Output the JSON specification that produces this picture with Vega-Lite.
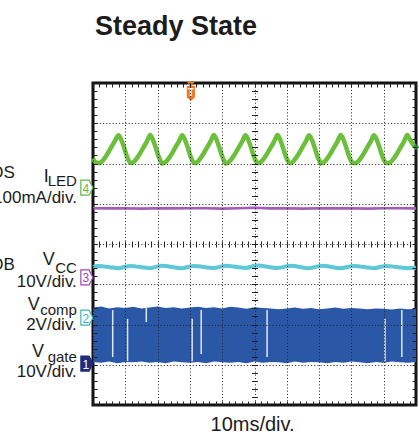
{
  "$schema": "https://vega.github.io/schema/vega-lite/v6.json",
  "width": 323,
  "height": 322,
  "autosize": {"type": "none"},
  "padding": {"left": 93, "top": 83, "right": 3, "bottom": 40},
  "background": "#ffffff",
  "config": {
    "view": {"stroke": "#111111", "strokeWidth": 3},
    "font": "Liberation Sans",
    "text": {"font": "Liberation Sans"}
  },
  "title": {"text": "Steady State", "anchor": "start", "frame": "group", "fontSize": 27, "font": "Liberation Sans", "fontWeight": "bold", "color": "#1c1c1c", "baseline": "alphabetic", "offset": 20, "dx": 2},
  "datasets": {
    "iled": [
      {"t":0.00,"v":2.12},{"t":0.06,"v":2.05},{"t":0.16,"v":2.01},{"t":0.23,"v":2.02},{"t":0.31,"v":2.08},{"t":0.41,"v":2.19},{"t":0.54,"v":2.37},{"t":0.67,"v":2.55},{"t":0.79,"v":2.70},
      {"t":0.87,"v":2.60},{"t":0.96,"v":2.40},{"t":1.04,"v":2.20},{"t":1.10,"v":2.08},{"t":1.16,"v":2.01},{"t":1.23,"v":2.02},{"t":1.31,"v":2.08},{"t":1.41,"v":2.19},{"t":1.54,"v":2.37},{"t":1.67,"v":2.55},{"t":1.77,"v":2.71},
      {"t":1.85,"v":2.60},{"t":1.94,"v":2.40},{"t":2.02,"v":2.20},{"t":2.08,"v":2.08},{"t":2.14,"v":2.00},{"t":2.22,"v":2.02},{"t":2.30,"v":2.08},{"t":2.40,"v":2.19},{"t":2.53,"v":2.37},{"t":2.66,"v":2.55},{"t":2.76,"v":2.70},
      {"t":2.84,"v":2.60},{"t":2.93,"v":2.40},{"t":3.01,"v":2.20},{"t":3.07,"v":2.08},{"t":3.13,"v":2.01},{"t":3.20,"v":2.02},{"t":3.28,"v":2.08},{"t":3.38,"v":2.19},{"t":3.51,"v":2.37},{"t":3.64,"v":2.55},{"t":3.74,"v":2.71},
      {"t":3.82,"v":2.60},{"t":3.91,"v":2.40},{"t":3.99,"v":2.20},{"t":4.05,"v":2.08},{"t":4.11,"v":2.00},{"t":4.18,"v":2.02},{"t":4.26,"v":2.08},{"t":4.36,"v":2.19},{"t":4.49,"v":2.37},{"t":4.62,"v":2.55},{"t":4.72,"v":2.70},
      {"t":4.80,"v":2.60},{"t":4.89,"v":2.40},{"t":4.97,"v":2.20},{"t":5.03,"v":2.08},{"t":5.09,"v":2.01},{"t":5.17,"v":2.02},{"t":5.25,"v":2.08},{"t":5.35,"v":2.19},{"t":5.48,"v":2.37},{"t":5.61,"v":2.55},{"t":5.71,"v":2.71},
      {"t":5.79,"v":2.60},{"t":5.88,"v":2.40},{"t":5.96,"v":2.20},{"t":6.02,"v":2.08},{"t":6.08,"v":2.01},{"t":6.15,"v":2.02},{"t":6.23,"v":2.08},{"t":6.33,"v":2.19},{"t":6.46,"v":2.37},{"t":6.59,"v":2.55},{"t":6.69,"v":2.70},
      {"t":6.77,"v":2.60},{"t":6.86,"v":2.40},{"t":6.94,"v":2.20},{"t":7.00,"v":2.08},{"t":7.06,"v":2.00},{"t":7.13,"v":2.02},{"t":7.21,"v":2.08},{"t":7.31,"v":2.19},{"t":7.44,"v":2.37},{"t":7.57,"v":2.55},{"t":7.67,"v":2.71},
      {"t":7.75,"v":2.60},{"t":7.84,"v":2.40},{"t":7.92,"v":2.20},{"t":7.98,"v":2.08},{"t":8.04,"v":2.01},{"t":8.16,"v":2.02},{"t":8.24,"v":2.08},{"t":8.34,"v":2.19},{"t":8.47,"v":2.37},{"t":8.60,"v":2.55},{"t":8.70,"v":2.70},
      {"t":8.78,"v":2.60},{"t":8.87,"v":2.40},{"t":8.95,"v":2.20},{"t":9.01,"v":2.08},{"t":9.07,"v":2.01},{"t":9.19,"v":2.02},{"t":9.27,"v":2.08},{"t":9.37,"v":2.19},{"t":9.50,"v":2.37},{"t":9.63,"v":2.55},{"t":9.73,"v":2.71},
      {"t":9.81,"v":2.60},{"t":9.90,"v":2.48},{"t":10.0,"v":2.42}
    ],
    "ch3": [
      {"t":0,"v":0.89},{"t":0.5,"v":0.885},{"t":1,"v":0.89},{"t":1.5,"v":0.88},{"t":2,"v":0.89},{"t":2.5,"v":0.885},{"t":3,"v":0.89},{"t":3.5,"v":0.89},{"t":4,"v":0.88},{"t":4.5,"v":0.89},{"t":5,"v":0.9},{"t":5.5,"v":0.885},{"t":6,"v":0.89},{"t":6.5,"v":0.88},{"t":7,"v":0.89},{"t":7.5,"v":0.885},{"t":8,"v":0.89},{"t":8.5,"v":0.88},{"t":9,"v":0.89},{"t":9.5,"v":0.89},{"t":10,"v":0.885}
    ],
    "vcc": [
      {"t":0,"v":-0.57},{"t":0.16,"v":-0.545},{"t":0.79,"v":-0.6},{"t":1.15,"v":-0.545},{"t":1.77,"v":-0.6},{"t":2.13,"v":-0.54},{"t":2.76,"v":-0.6},{"t":3.12,"v":-0.545},{"t":3.74,"v":-0.595},{"t":4.10,"v":-0.54},{"t":4.72,"v":-0.595},{"t":5.08,"v":-0.535},{"t":5.71,"v":-0.595},{"t":6.12,"v":-0.54},{"t":6.69,"v":-0.6},{"t":7.10,"v":-0.54},{"t":7.67,"v":-0.6},{"t":8.08,"v":-0.545},{"t":8.70,"v":-0.6},{"t":9.07,"v":-0.545},{"t":9.73,"v":-0.6},{"t":10,"v":-0.59}
    ],
    "gate": [
      {"t":0,"hi":-1.58,"lo":-2.93},{"t":0.25,"hi":-1.55,"lo":-2.95},{"t":0.5,"hi":-1.6,"lo":-2.92},{"t":0.75,"hi":-1.57,"lo":-2.96},{"t":1,"hi":-1.59,"lo":-2.93},{"t":1.25,"hi":-1.56,"lo":-2.94},{"t":1.5,"hi":-1.6,"lo":-2.92},{"t":1.75,"hi":-1.58,"lo":-2.95},{"t":2,"hi":-1.55,"lo":-2.93},{"t":2.25,"hi":-1.59,"lo":-2.96},{"t":2.5,"hi":-1.57,"lo":-2.92},{"t":2.75,"hi":-1.6,"lo":-2.94},{"t":3,"hi":-1.58,"lo":-2.95},{"t":3.25,"hi":-1.56,"lo":-2.93},{"t":3.5,"hi":-1.59,"lo":-2.96},{"t":3.75,"hi":-1.57,"lo":-2.92},{"t":4,"hi":-1.6,"lo":-2.94},{"t":4.25,"hi":-1.56,"lo":-2.95},{"t":4.5,"hi":-1.58,"lo":-2.93},{"t":4.75,"hi":-1.61,"lo":-2.96},{"t":5,"hi":-1.57,"lo":-2.92},{"t":5.25,"hi":-1.59,"lo":-2.95},{"t":5.5,"hi":-1.6,"lo":-2.93},{"t":5.75,"hi":-1.62,"lo":-2.94},{"t":6,"hi":-1.6,"lo":-2.96},{"t":6.25,"hi":-1.58,"lo":-2.92},{"t":6.5,"hi":-1.61,"lo":-2.95},{"t":6.75,"hi":-1.59,"lo":-2.93},{"t":7,"hi":-1.62,"lo":-2.94},{"t":7.25,"hi":-1.6,"lo":-2.96},{"t":7.5,"hi":-1.58,"lo":-2.93},{"t":7.75,"hi":-1.61,"lo":-2.95},{"t":8,"hi":-1.59,"lo":-2.92},{"t":8.25,"hi":-1.6,"lo":-2.94},{"t":8.5,"hi":-1.62,"lo":-2.96},{"t":8.75,"hi":-1.6,"lo":-2.93},{"t":9,"hi":-1.61,"lo":-2.95},{"t":9.25,"hi":-1.63,"lo":-2.92},{"t":9.5,"hi":-1.6,"lo":-2.94},{"t":9.75,"hi":-1.62,"lo":-2.95},{"t":10,"hi":-1.61,"lo":-2.93}
    ],
    "gaps": [
      {"t":0.61,"y1":-1.64,"y2":-2.81},{"t":1.07,"y1":-1.86,"y2":-2.91},{"t":1.65,"y1":-1.59,"y2":-1.94},{"t":3.07,"y1":-1.86,"y2":-2.91},{"t":3.35,"y1":-1.64,"y2":-2.73},{"t":5.39,"y1":-1.64,"y2":-2.81},{"t":9.04,"y1":-1.86,"y2":-2.91},{"t":9.56,"y1":-1.64,"y2":-2.81}
    ],
    "markers": [
      {"ch":"4","t":-0.19,"v":1.40},{"ch":"3","t":-0.19,"v":-0.83},{"ch":"2","t":-0.19,"v":-1.83},{"ch":"1","t":-0.19,"v":-2.97}
    ],
    "bigletters": [
      {"t":-1.37,"v":1.54,"label":"I"},{"t":-1.18,"v":-0.52,"label":"V"},{"t":-1.65,"v":-1.64,"label":"V"},{"t":-1.52,"v":-2.81,"label":"V"}
    ],
    "subs": [
      {"t":-0.5,"v":1.44,"label":"LED"},{"t":-0.5,"v":-0.72,"label":"CC"},{"t":-0.5,"v":-1.76,"label":"comp"},{"t":-0.5,"v":-2.93,"label":"gate"}
    ],
    "scales": [
      {"t":-0.5,"v":1.02,"label":"100mA/div."},{"t":-0.5,"v":-1.07,"label":"10V/div."},{"t":-0.5,"v":-2.14,"label":"2V/div."},{"t":-0.5,"v":-3.30,"label":"10V/div."},{"t":-2.42,"v":1.64,"label":"OS"},{"t":-2.42,"v":-0.65,"label":"OB"}
    ]
  },
  "resolve": {"axis": {"x": "independent", "y": "independent"}},
  "layer": [
    {
      "data": {"name": "iled"},
      "mark": {"type": "line", "color": "#6bbf3b", "strokeWidth": 4.5, "interpolate": "monotone"},
      "encoding": {
        "x": {"field": "t", "type": "quantitative", "scale": {"domain": [0, 10], "nice": false, "zero": false},
          "axis": {"orient": "bottom", "title": null, "labels": false, "domain": false, "zindex": 1,
            "values": [0,0.2,0.4,0.6,0.8,1,1.2,1.4,1.6,1.8,2,2.2,2.4,2.6,2.8,3,3.2,3.4,3.6,3.8,4,4.2,4.4,4.6,4.8,5,5.2,5.4,5.6,5.8,6,6.2,6.4,6.6,6.8,7,7.2,7.4,7.6,7.8,8,8.2,8.4,8.6,8.8,9,9.2,9.4,9.6,9.8,10],
            "tickSize": -4, "tickColor": "#222222", "tickWidth": 1,
            "grid": true, "gridColor": "#222222", "gridDash": [1, 2.2], "gridWidth": 1,
            "gridOpacity": {"condition": {"test": "abs(datum.value - round(datum.value)) < 0.01", "value": 1}, "value": 0}}},
        "y": {"field": "v", "type": "quantitative", "scale": {"domain": [-4, 4], "nice": false, "zero": false},
          "axis": {"orient": "left", "title": null, "labels": false, "domain": false, "zindex": 1,
            "values": [-4,-3.8,-3.6,-3.4,-3.2,-3,-2.8,-2.6,-2.4,-2.2,-2,-1.8,-1.6,-1.4,-1.2,-1,-0.8,-0.6,-0.4,-0.2,0,0.2,0.4,0.6,0.8,1,1.2,1.4,1.6,1.8,2,2.2,2.4,2.6,2.8,3,3.2,3.4,3.6,3.8,4],
            "tickSize": -4, "tickColor": "#222222", "tickWidth": 1,
            "grid": true, "gridColor": "#222222", "gridDash": [1, 2.2], "gridWidth": 1,
            "gridOpacity": {"condition": {"test": "abs(datum.value - round(datum.value)) < 0.01", "value": 1}, "value": 0}}}
      }
    },
    {
      "data": {"name": "ch3"},
      "mark": {"type": "line", "color": "#a45cb4", "strokeWidth": 2.6},
      "encoding": {
        "x": {"field": "t", "type": "quantitative", "scale": {"domain": [0, 10], "nice": false, "zero": false},
          "axis": {"orient": "top", "title": null, "labels": false, "domain": false, "grid": false, "zindex": 1,
            "values": [0,0.2,0.4,0.6,0.8,1,1.2,1.4,1.6,1.8,2,2.2,2.4,2.6,2.8,3,3.2,3.4,3.6,3.8,4,4.2,4.4,4.6,4.8,5,5.2,5.4,5.6,5.8,6,6.2,6.4,6.6,6.8,7,7.2,7.4,7.6,7.8,8,8.2,8.4,8.6,8.8,9,9.2,9.4,9.6,9.8,10],
            "tickSize": -4, "tickColor": "#222222", "tickWidth": 1}},
        "y": {"field": "v", "type": "quantitative", "scale": {"domain": [-4, 4], "nice": false, "zero": false},
          "axis": {"orient": "right", "title": null, "labels": false, "domain": false, "grid": false, "zindex": 1,
            "values": [-4,-3.8,-3.6,-3.4,-3.2,-3,-2.8,-2.6,-2.4,-2.2,-2,-1.8,-1.6,-1.4,-1.2,-1,-0.8,-0.6,-0.4,-0.2,0,0.2,0.4,0.6,0.8,1,1.2,1.4,1.6,1.8,2,2.2,2.4,2.6,2.8,3,3.2,3.4,3.6,3.8,4],
            "tickSize": -4, "tickColor": "#222222", "tickWidth": 1}}
      }
    },
    {
      "data": {"name": "vcc"},
      "mark": {"type": "line", "color": "#5ec8d6", "strokeWidth": 4, "interpolate": "monotone"},
      "encoding": {
        "x": {"field": "t", "type": "quantitative", "scale": {"domain": [0, 10], "nice": false, "zero": false},
          "axis": {"orient": "bottom", "offset": -161, "title": null, "labels": false, "domain": false, "grid": false, "zindex": 1,
            "values": [0,0.2,0.4,0.6,0.8,1,1.2,1.4,1.6,1.8,2,2.2,2.4,2.6,2.8,3,3.2,3.4,3.6,3.8,4,4.2,4.4,4.6,4.8,5,5.2,5.4,5.6,5.8,6,6.2,6.4,6.6,6.8,7,7.2,7.4,7.6,7.8,8,8.2,8.4,8.6,8.8,9,9.2,9.4,9.6,9.8,10],
            "tickSize": 3, "tickColor": "#222222", "tickWidth": 1}},
        "y": {"field": "v", "type": "quantitative", "scale": {"domain": [-4, 4], "nice": false, "zero": false},
          "axis": {"orient": "left", "offset": -161.5, "title": null, "labels": false, "domain": false, "grid": false, "zindex": 1,
            "values": [-4,-3.8,-3.6,-3.4,-3.2,-3,-2.8,-2.6,-2.4,-2.2,-2,-1.8,-1.6,-1.4,-1.2,-1,-0.8,-0.6,-0.4,-0.2,0,0.2,0.4,0.6,0.8,1,1.2,1.4,1.6,1.8,2,2.2,2.4,2.6,2.8,3,3.2,3.4,3.6,3.8,4],
            "tickSize": 3, "tickColor": "#222222", "tickWidth": 1}}
      }
    },
    {
      "data": {"name": "gate"},
      "mark": {"type": "area", "color": "#2a58a7", "opacity": 1},
      "encoding": {
        "x": {"field": "t", "type": "quantitative", "scale": {"domain": [0, 10], "nice": false, "zero": false},
          "axis": {"orient": "top", "offset": -161, "title": null, "labels": false, "domain": false, "grid": false, "zindex": 1,
            "values": [0,0.2,0.4,0.6,0.8,1,1.2,1.4,1.6,1.8,2,2.2,2.4,2.6,2.8,3,3.2,3.4,3.6,3.8,4,4.2,4.4,4.6,4.8,5,5.2,5.4,5.6,5.8,6,6.2,6.4,6.6,6.8,7,7.2,7.4,7.6,7.8,8,8.2,8.4,8.6,8.8,9,9.2,9.4,9.6,9.8,10],
            "tickSize": 3, "tickColor": "#222222", "tickWidth": 1}},
        "y": {"field": "hi", "type": "quantitative", "scale": {"domain": [-4, 4], "nice": false, "zero": false},
          "axis": {"orient": "right", "offset": -161.5, "title": null, "labels": false, "domain": false, "grid": false, "zindex": 1,
            "values": [-4,-3.8,-3.6,-3.4,-3.2,-3,-2.8,-2.6,-2.4,-2.2,-2,-1.8,-1.6,-1.4,-1.2,-1,-0.8,-0.6,-0.4,-0.2,0,0.2,0.4,0.6,0.8,1,1.2,1.4,1.6,1.8,2,2.2,2.4,2.6,2.8,3,3.2,3.4,3.6,3.8,4],
            "tickSize": 3, "tickColor": "#222222", "tickWidth": 1}},
        "y2": {"field": "lo"}
      }
    },
    {
      "data": {"name": "gaps"},
      "mark": {"type": "rule", "color": "#dde6f3", "strokeWidth": 1.5},
      "encoding": {
        "x": {"field": "t", "type": "quantitative", "scale": {"domain": [0, 10], "nice": false, "zero": false}, "axis": null},
        "y": {"field": "y1", "type": "quantitative", "scale": {"domain": [-4, 4], "nice": false, "zero": false}, "axis": null},
        "y2": {"field": "y2"}
      }
    },
    {
      "data": {"name": "markers"},
      "mark": {"type": "point", "shape": "M-0.8,-1 L0.3,-1 L0.8,0 L0.3,1 L-0.8,1 Z", "size": 225, "filled": false, "strokeWidth": 1.2, "opacity": 1, "clip": false},
      "encoding": {
        "x": {"field": "t", "type": "quantitative", "scale": {"domain": [0, 10], "nice": false, "zero": false}, "axis": null},
        "y": {"field": "v", "type": "quantitative", "scale": {"domain": [-4, 4], "nice": false, "zero": false}, "axis": null},
        "stroke": {"field": "ch", "type": "nominal", "scale": {"domain": ["1", "2", "3", "4"], "range": ["#1f2d7c", "#3bb7b8", "#a047b0", "#5cb848"]}, "legend": null},
        "fill": {"field": "ch", "type": "nominal", "scale": {"domain": ["1", "2", "3", "4"], "range": ["#1f2d7c", "#ffffff", "#ffffff", "#ffffff"]}, "legend": null}
      }
    },
    {
      "data": {"name": "markers"},
      "mark": {"type": "text", "fontSize": 12, "align": "center", "baseline": "middle", "dx": -1, "dy": 1},
      "encoding": {
        "x": {"field": "t", "type": "quantitative", "scale": {"domain": [0, 10], "nice": false, "zero": false}, "axis": null},
        "y": {"field": "v", "type": "quantitative", "scale": {"domain": [-4, 4], "nice": false, "zero": false}, "axis": null},
        "text": {"field": "ch"},
        "color": {"field": "ch", "type": "nominal", "scale": {"domain": ["1", "2", "3", "4"], "range": ["#ffffff", "#3bb7b8", "#a047b0", "#5cb848"]}, "legend": null}
      }
    },
    {
      "data": {"values": [{"t": 3.03, "v": 3.95}]},
      "mark": {"type": "point", "shape": "triangle-down", "size": 60, "filled": true, "color": "#f07a24", "opacity": 1},
      "encoding": {
        "x": {"field": "t", "type": "quantitative", "scale": {"domain": [0, 10], "nice": false, "zero": false}, "axis": null},
        "y": {"field": "v", "type": "quantitative", "scale": {"domain": [-4, 4], "nice": false, "zero": false}, "axis": null}
      }
    },
    {
      "data": {"values": [{"t": 3.03, "v": 3.74}]},
      "mark": {"type": "point", "shape": "M-0.55,-1 L0.55,-1 L0.55,0.55 L0,1 L-0.55,0.55 Z", "size": 220, "filled": true, "color": "#f07a24", "opacity": 1},
      "encoding": {
        "x": {"field": "t", "type": "quantitative", "scale": {"domain": [0, 10], "nice": false, "zero": false}, "axis": null},
        "y": {"field": "v", "type": "quantitative", "scale": {"domain": [-4, 4], "nice": false, "zero": false}, "axis": null}
      }
    },
    {
      "data": {"values": [{"t": 3.03, "v": 3.76, "label": "T"}]},
      "mark": {"type": "text", "fontSize": 10, "fontWeight": "bold", "color": "#ffffff", "align": "center", "baseline": "middle"},
      "encoding": {
        "x": {"field": "t", "type": "quantitative", "scale": {"domain": [0, 10], "nice": false, "zero": false}, "axis": null},
        "y": {"field": "v", "type": "quantitative", "scale": {"domain": [-4, 4], "nice": false, "zero": false}, "axis": null},
        "text": {"field": "label"}
      }
    },
    {
      "data": {"values": [{"t": 10, "v": 2.41}]},
      "mark": {"type": "point", "shape": "diamond", "size": 45, "filled": true, "color": "#2f8f3a", "opacity": 1},
      "encoding": {
        "x": {"field": "t", "type": "quantitative", "scale": {"domain": [0, 10], "nice": false, "zero": false}, "axis": null},
        "y": {"field": "v", "type": "quantitative", "scale": {"domain": [-4, 4], "nice": false, "zero": false}, "axis": null}
      }
    },
    {
      "data": {"name": "bigletters"},
      "mark": {"type": "text", "fontSize": 18, "color": "#1c1c1c", "align": "right", "baseline": "alphabetic"},
      "encoding": {
        "x": {"field": "t", "type": "quantitative", "scale": {"domain": [0, 10], "nice": false, "zero": false}, "axis": null},
        "y": {"field": "v", "type": "quantitative", "scale": {"domain": [-4, 4], "nice": false, "zero": false}, "axis": null},
        "text": {"field": "label"}
      }
    },
    {
      "data": {"name": "subs"},
      "mark": {"type": "text", "fontSize": 15, "color": "#1c1c1c", "align": "right", "baseline": "alphabetic"},
      "encoding": {
        "x": {"field": "t", "type": "quantitative", "scale": {"domain": [0, 10], "nice": false, "zero": false}, "axis": null},
        "y": {"field": "v", "type": "quantitative", "scale": {"domain": [-4, 4], "nice": false, "zero": false}, "axis": null},
        "text": {"field": "label"}
      }
    },
    {
      "data": {"name": "scales"},
      "mark": {"type": "text", "fontSize": 17, "color": "#1c1c1c", "align": "right", "baseline": "alphabetic"},
      "encoding": {
        "x": {"field": "t", "type": "quantitative", "scale": {"domain": [0, 10], "nice": false, "zero": false}, "axis": null},
        "y": {"field": "v", "type": "quantitative", "scale": {"domain": [-4, 4], "nice": false, "zero": false}, "axis": null},
        "text": {"field": "label"}
      }
    },
    {
      "data": {"values": [{"t": 4.94, "v": -4.646, "label": "10ms/div."}]},
      "mark": {"type": "text", "fontSize": 20, "color": "#1c1c1c", "align": "center", "baseline": "alphabetic"},
      "encoding": {
        "x": {"field": "t", "type": "quantitative", "scale": {"domain": [0, 10], "nice": false, "zero": false}, "axis": null},
        "y": {"field": "v", "type": "quantitative", "scale": {"domain": [-4, 4], "nice": false, "zero": false}, "axis": null},
        "text": {"field": "label"}
      }
    }
  ]
}
